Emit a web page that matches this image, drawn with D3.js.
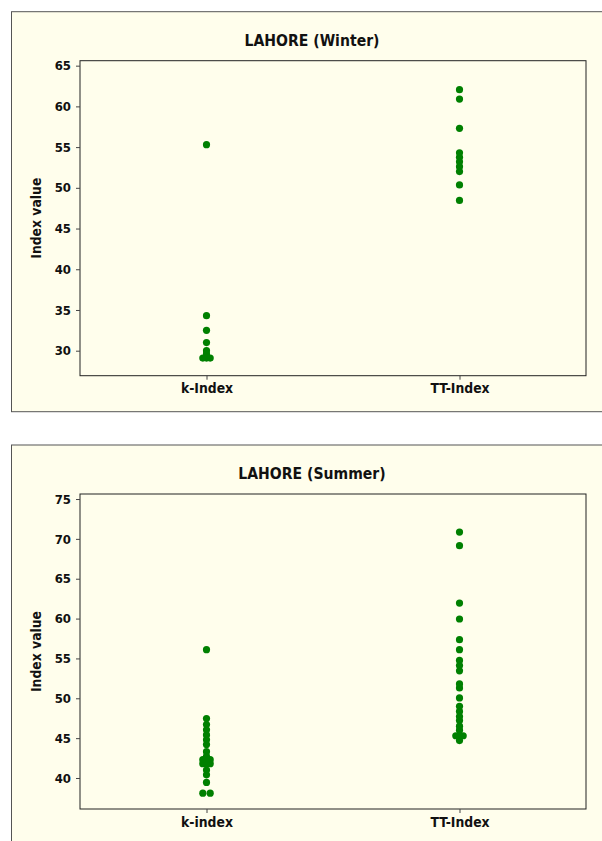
<!DOCTYPE html>
<html>
<head>
<meta charset="utf-8">
<script src="https://cdn.jsdelivr.net/npm/d3@7"></script>
<style>
  body { margin: 0; background: #fff; }
  svg text { font-family: "DejaVu Sans Condensed", "DejaVu Sans", sans-serif; font-stretch: condensed; font-weight: bold; fill: #111; }
</style>
</head>
<body>
<div id="chart"></div>
<script>
// categories and values
var winterCats = ["k-Index", "TT-Index"];
var winterK = [55.3, 34.3, 32.5, 31.0, 30.0, 29.6, 29.1, 29.1, 29.1];
var winterTT = [62.05, 60.9, 57.3, 54.3, 53.75, 53.2, 52.6, 52.0, 50.35, 48.45];
var winterTicks = [30, 35, 40, 45, 50, 55, 60, 65];

var summerCats = ["k-index", "TT-Index"];
var summerK = [56.1, 47.45, 46.7, 46.05, 45.4, 44.8, 44.2, 43.3, 42.7, 42.3, 42.3, 42.3,
  41.8, 41.8, 41.8, 41.0, 40.4, 39.45, 38.1, 38.1];
var summerTT = [70.85, 69.15, 61.95, 59.95, 57.35, 56.1, 54.75, 54.1, 53.45, 51.8, 51.3,
  50.05, 49.0, 48.35, 47.7, 47.2, 46.5, 46.0, 45.3, 45.3, 45.3, 44.7];
var summerTicks = [40, 45, 50, 55, 60, 65, 70, 75];

var width = 602, height = 841;

var svg = d3.select("#chart").append("svg")
  .attr("width", width)
  .attr("height", height);

function drawPanel(opts) {
  var y0 = opts.top;
  var g = svg.append("g").attr("transform", "translate(0," + y0 + ")");

  // outer frame
  g.append("rect")
    .attr("x", 11.5).attr("y", 0.5)
    .attr("width", 602).attr("height", 400)
    .attr("fill", "#fffeec")
    .attr("stroke", "#555").attr("stroke-width", 1);

  var plot = { left: 80, right: 586, top: 49.5, bottom: 364.5 };

  var x = d3.scalePoint()
    .domain(opts.cats)
    .range([plot.left, plot.right])
    .padding(0.5);

  var y = d3.scaleLinear()
    .domain(opts.domain)
    .range([plot.bottom, plot.top]);

  // title
  g.append("text")
    .attr("x", 312).attr("y", 29)
    .attr("dy", "0.35em")
    .attr("text-anchor", "middle")
    .attr("font-size", "15.6px")
    .text(opts.title);

  // plot box
  g.append("rect")
    .attr("x", plot.left).attr("y", plot.top)
    .attr("width", plot.right - plot.left)
    .attr("height", plot.bottom - plot.top)
    .attr("fill", "#fffeec")
    .attr("stroke", "#222").attr("stroke-width", 1);

  // y axis
  var yAxis = g.append("g")
    .attr("transform", "translate(" + plot.left + ",0)")
    .call(d3.axisLeft(y).tickValues(opts.ticks).tickSize(4).tickPadding(5));
  yAxis.select(".domain").remove();
  yAxis.selectAll(".tick line").attr("stroke", "#444");
  yAxis.selectAll(".tick text")
    .attr("font-size", "13px")
    .attr("font-family", null);

  // x axis
  var xAxis = g.append("g")
    .attr("transform", "translate(0," + plot.bottom + ")")
    .call(d3.axisBottom(x).tickSize(4).tickPadding(4));
  xAxis.select(".domain").remove();
  xAxis.selectAll(".tick line").attr("stroke", "#444");
  xAxis.selectAll(".tick text")
    .attr("font-size", "13.8px")
    .attr("font-family", null);

  // y axis label
  g.append("text")
    .attr("transform", "translate(36.5," + (plot.top + plot.bottom) / 2 + ") rotate(-90)")
    .attr("dy", "0.35em")
    .attr("text-anchor", "middle")
    .attr("font-size", "13.8px")
    .text("Index value");

  // points; tied values are spread sideways
  var pts = [];
  opts.series.forEach(function (vals, si) {
    var groups = d3.group(vals, function (v) { return v; });
    groups.forEach(function (arr, v) {
      var step = arr.length > 1 ? 7.4 / (arr.length - 1) : 0;
      arr.forEach(function (d, i) {
        pts.push({ cat: opts.cats[si], value: v, off: (i - (arr.length - 1) / 2) * step });
      });
    });
  });

  g.append("g").selectAll("circle")
    .data(pts)
    .join("circle")
    .attr("cx", function (d) { return x(d.cat) + d.off; })
    .attr("cy", function (d) { return y(d.value); })
    .attr("r", 3.6)
    .attr("fill", "#008000");
}

drawPanel({
  top: 11.2,
  title: "LAHORE (Winter)",
  cats: winterCats,
  series: [winterK, winterTT],
  domain: [26.93, 65.61],
  ticks: winterTicks
});

drawPanel({
  top: 444.5,
  title: "LAHORE (Summer)",
  cats: summerCats,
  series: [summerK, summerTT],
  domain: [36.11, 75.63],
  ticks: summerTicks
});
</script>
</body>
</html>
